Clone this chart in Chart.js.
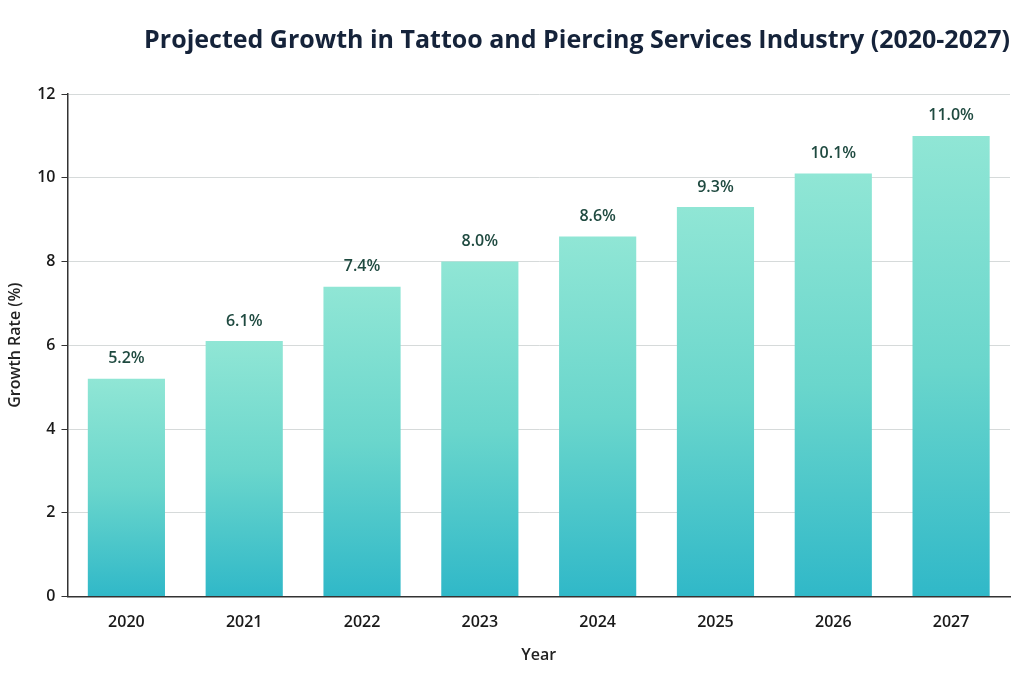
<!DOCTYPE html>
<html>
<head>
<meta charset="utf-8">
<script src="https://cdn.jsdelivr.net/npm/chart.js@4/dist/chart.umd.min.js"></script>
<style>
  html, body { margin: 0; padding: 0; background: #fff; }
  #wrap { width: 1024px; height: 683px; position: relative; }
</style>
</head>
<body>
<div id="wrap"><canvas id="chart" width="1024" height="683"></canvas></div>
<script>
const years = ["2020", "2021", "2022", "2023", "2024", "2025", "2026", "2027"];
const growth = [5.2, 6.1, 7.4, 8.0, 8.6, 9.3, 10.1, 11.0];
const yTicks = [0, 2, 4, 6, 8, 10, 12];

const FONT = "'Open Sans', 'Noto Sans', sans-serif";

/* value labels above bars */
const barLabels = {
    id: "barLabels",
    afterDatasetsDraw(chart) {
        const ctx = chart.ctx;
        ctx.save();
        ctx.font = "600 16px " + FONT;
        ctx.fillStyle = "#1f4a40";
        ctx.textAlign = "center";
        ctx.textBaseline = "bottom";
        chart.getDatasetMeta(0).data.forEach((bar, i) => {
            ctx.fillText(growth[i].toFixed(1) + "%", bar.x, bar.y - 12);
        });
        ctx.restore();
    }
};

/* each bar gets its own gradient, light at its top, teal at the base */
function barGradient(context) {
    const chart = context.chart;
    if (!chart.chartArea || context.dataIndex === undefined) return "#6fd8cc";
    const y = chart.scales.y;
    const top = y.getPixelForValue(growth[context.dataIndex]);
    const bottom = y.getPixelForValue(0);
    const g = chart.ctx.createLinearGradient(0, top, 0, bottom);
    g.addColorStop(0, "#90e6d5");
    g.addColorStop(0.5, "#6ad6cc");
    g.addColorStop(1, "#30b8c8");
    return g;
}

new Chart(document.getElementById("chart"), {
    type: "bar",
    data: {
        labels: years,
        datasets: [{
            data: growth,
            backgroundColor: barGradient,
            borderWidth: 0,
            categoryPercentage: 1.0,
            barPercentage: 0.655
        }]
    },
    options: {
        responsive: false,
        animation: false,
        layout: { padding: { left: 2, right: 14, top: 20, bottom: 14 } },
        plugins: {
            legend: { display: false },
            tooltip: { enabled: false },
            title: {
                display: true,
                text: "Projected Growth in Tattoo and Piercing Services Industry (2020-2027)",
                align: "end",
                color: "#15233a",
                font: { family: FONT, size: 25, weight: "700" },
                padding: { top: 6, bottom: 38 }
            }
        },
        scales: {
            x: {
                grid: { display: false },
                border: { color: "#333", width: 1.5 },
                ticks: { color: "#1a1a1a", font: { family: FONT, size: 16, weight: "600" }, padding: 8 },
                title: { display: true, text: "Year", color: "#222", font: { family: FONT, size: 16, weight: "600" }, padding: { top: 6 } }
            },
            y: {
                min: 0,
                max: 12,
                afterBuildTicks: axis => { axis.ticks = yTicks.map(v => ({ value: v })); },
                grid: { color: "#d6dada", borderDash: [4, 4], tickLength: 6, tickColor: "#333" },
                border: { color: "#333", width: 1.5 },
                ticks: { color: "#1a1a1a", font: { family: FONT, size: 16, weight: "600" }, padding: 6 },
                title: { display: true, text: "Growth Rate (%)", color: "#222", font: { family: FONT, size: 16, weight: "600" }, padding: { bottom: 6 } }
            }
        }
    },
    plugins: [barLabels]
});
</script>
</body>
</html>
